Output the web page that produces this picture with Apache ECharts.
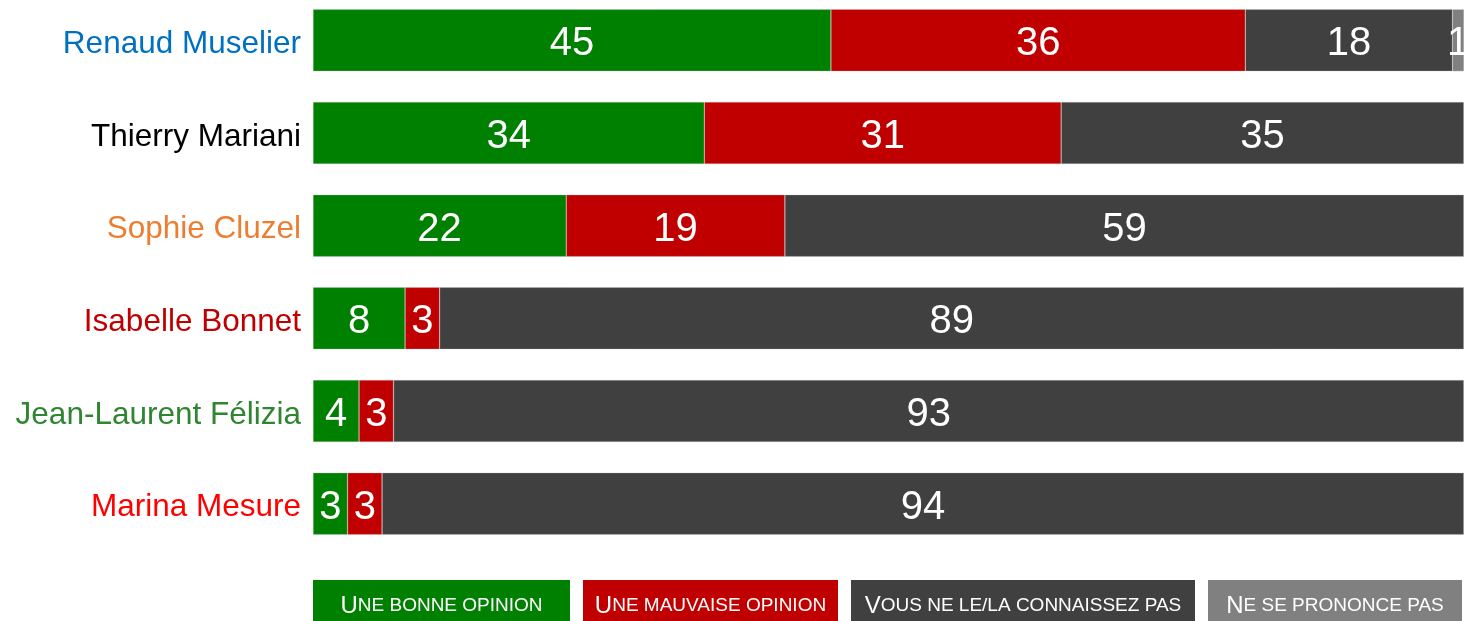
<!DOCTYPE html>
<html>
<head>
<meta charset="utf-8">
<script src="https://cdn.jsdelivr.net/npm/echarts@6/dist/echarts.min.js"></script>
<style>
  html, body { margin: 0; padding: 0; background: #fff; overflow: hidden; }
  #chart { position: relative; top: -6px; width: 1464px; height: 627px; }
</style>
</head>
<body>
<div id="chart"></div>
<script>
// candidats et couleurs des noms
const candidats = ['Renaud Muselier', 'Thierry Mariani', 'Sophie Cluzel', 'Isabelle Bonnet', 'Jean-Laurent Félizia', 'Marina Mesure']
const couleursNoms = ['#0070c0', '#000000', '#ed7d31', '#c00000', '#2e8630', '#ff0000']

// opinions (%)
const bonne = [45, 34, 22, 8, 4, 3]
const mauvaise = [36, 31, 19, 3, 3, 3]
const connaissezPas = [18, 35, 59, 89, 93, 94]
const nsp = [1, 0, 0, 0, 0, 0]

// légende : [majuscule, petites capitales]
const legendes = [
  ['U', 'NE BONNE OPINION'],
  ['U', 'NE MAUVAISE OPINION'],
  ['V', 'OUS NE LE/LA CONNAISSEZ PAS'],
  ['N', 'E SE PRONONCE PAS']
]
const couleurs = ['#008000', '#c00000', '#404040', '#808080']

let myChart = echarts.init(document.getElementById('chart'))

let serie = (name, data, i) => ({
  name: name,
  type: 'bar',
  stack: 'total',
  barWidth: 62,
  data: data,
  itemStyle: {
    color: couleurs[i],
    borderColor: 'rgba(200,200,200,0.6)',
    borderWidth: 0.5
  },
  label: {
    show: true,
    position: 'inside',
    offset: [0, 4],
    color: '#fff',
    fontSize: 40,
    fontFamily: 'Liberation Sans, Arial',
    formatter: p => (p.value > 0 ? p.value : '')
  },
  emphasis: { disabled: true }
})

// style de chaque nom (couleur + petit décalage vers le bas)
let richNoms = {}
couleursNoms.forEach((c, i) => {
  richNoms['c' + i] = {
    color: c,
    fontSize: 31.5,
    fontFamily: 'Liberation Sans, Arial',
    padding: [8, 0, 0, 0]
  }
})

// légende dessinée en boîtes (le conteneur est décalé de 6px vers le haut)
const boites = [[313, 257], [583, 255], [851, 344], [1208, 254]]
let graphics = []
boites.forEach((b, i) => {
  graphics.push({
    type: 'rect',
    left: b[0],
    top: 586,
    shape: { width: b[1], height: 48 },
    style: { fill: couleurs[i] }
  })
  graphics.push({
    type: 'text',
    x: b[0] + b[1] / 2,
    y: 612,
    style: {
      text: '{a|' + legendes[i][0] + '}{b|' + legendes[i][1] + '}',
      align: 'center',
      verticalAlign: 'middle',
      fill: '#fff',
      rich: {
        a: { fontSize: 24, fill: '#fff', fontFamily: 'Liberation Sans, Arial' },
        b: { fontSize: 19, fill: '#fff', fontFamily: 'Liberation Sans, Arial' }
      }
    }
  })
})

let option = {
  animation: false,
  grid: {
    left: 313,
    width: 1155,
    top: 0,
    bottom: 71,
    containLabel: false
  },
  xAxis: {
    type: 'value',
    min: 0,
    max: 100,
    show: false
  },
  yAxis: {
    type: 'category',
    inverse: true,
    data: candidats,
    axisLine: { show: false },
    axisTick: { show: false },
    axisLabel: {
      margin: 12,
      formatter: (v, i) => '{c' + i + '|' + v + '}',
      rich: richNoms
    }
  },
  series: [
    serie('Une bonne opinion', bonne, 0),
    serie('Une mauvaise opinion', mauvaise, 1),
    serie('Vous ne le/la connaissez pas', connaissezPas, 2),
    serie('Ne se prononce pas', nsp, 3)
  ],
  graphic: graphics
}
myChart.setOption(option)
</script>
</body>
</html>
